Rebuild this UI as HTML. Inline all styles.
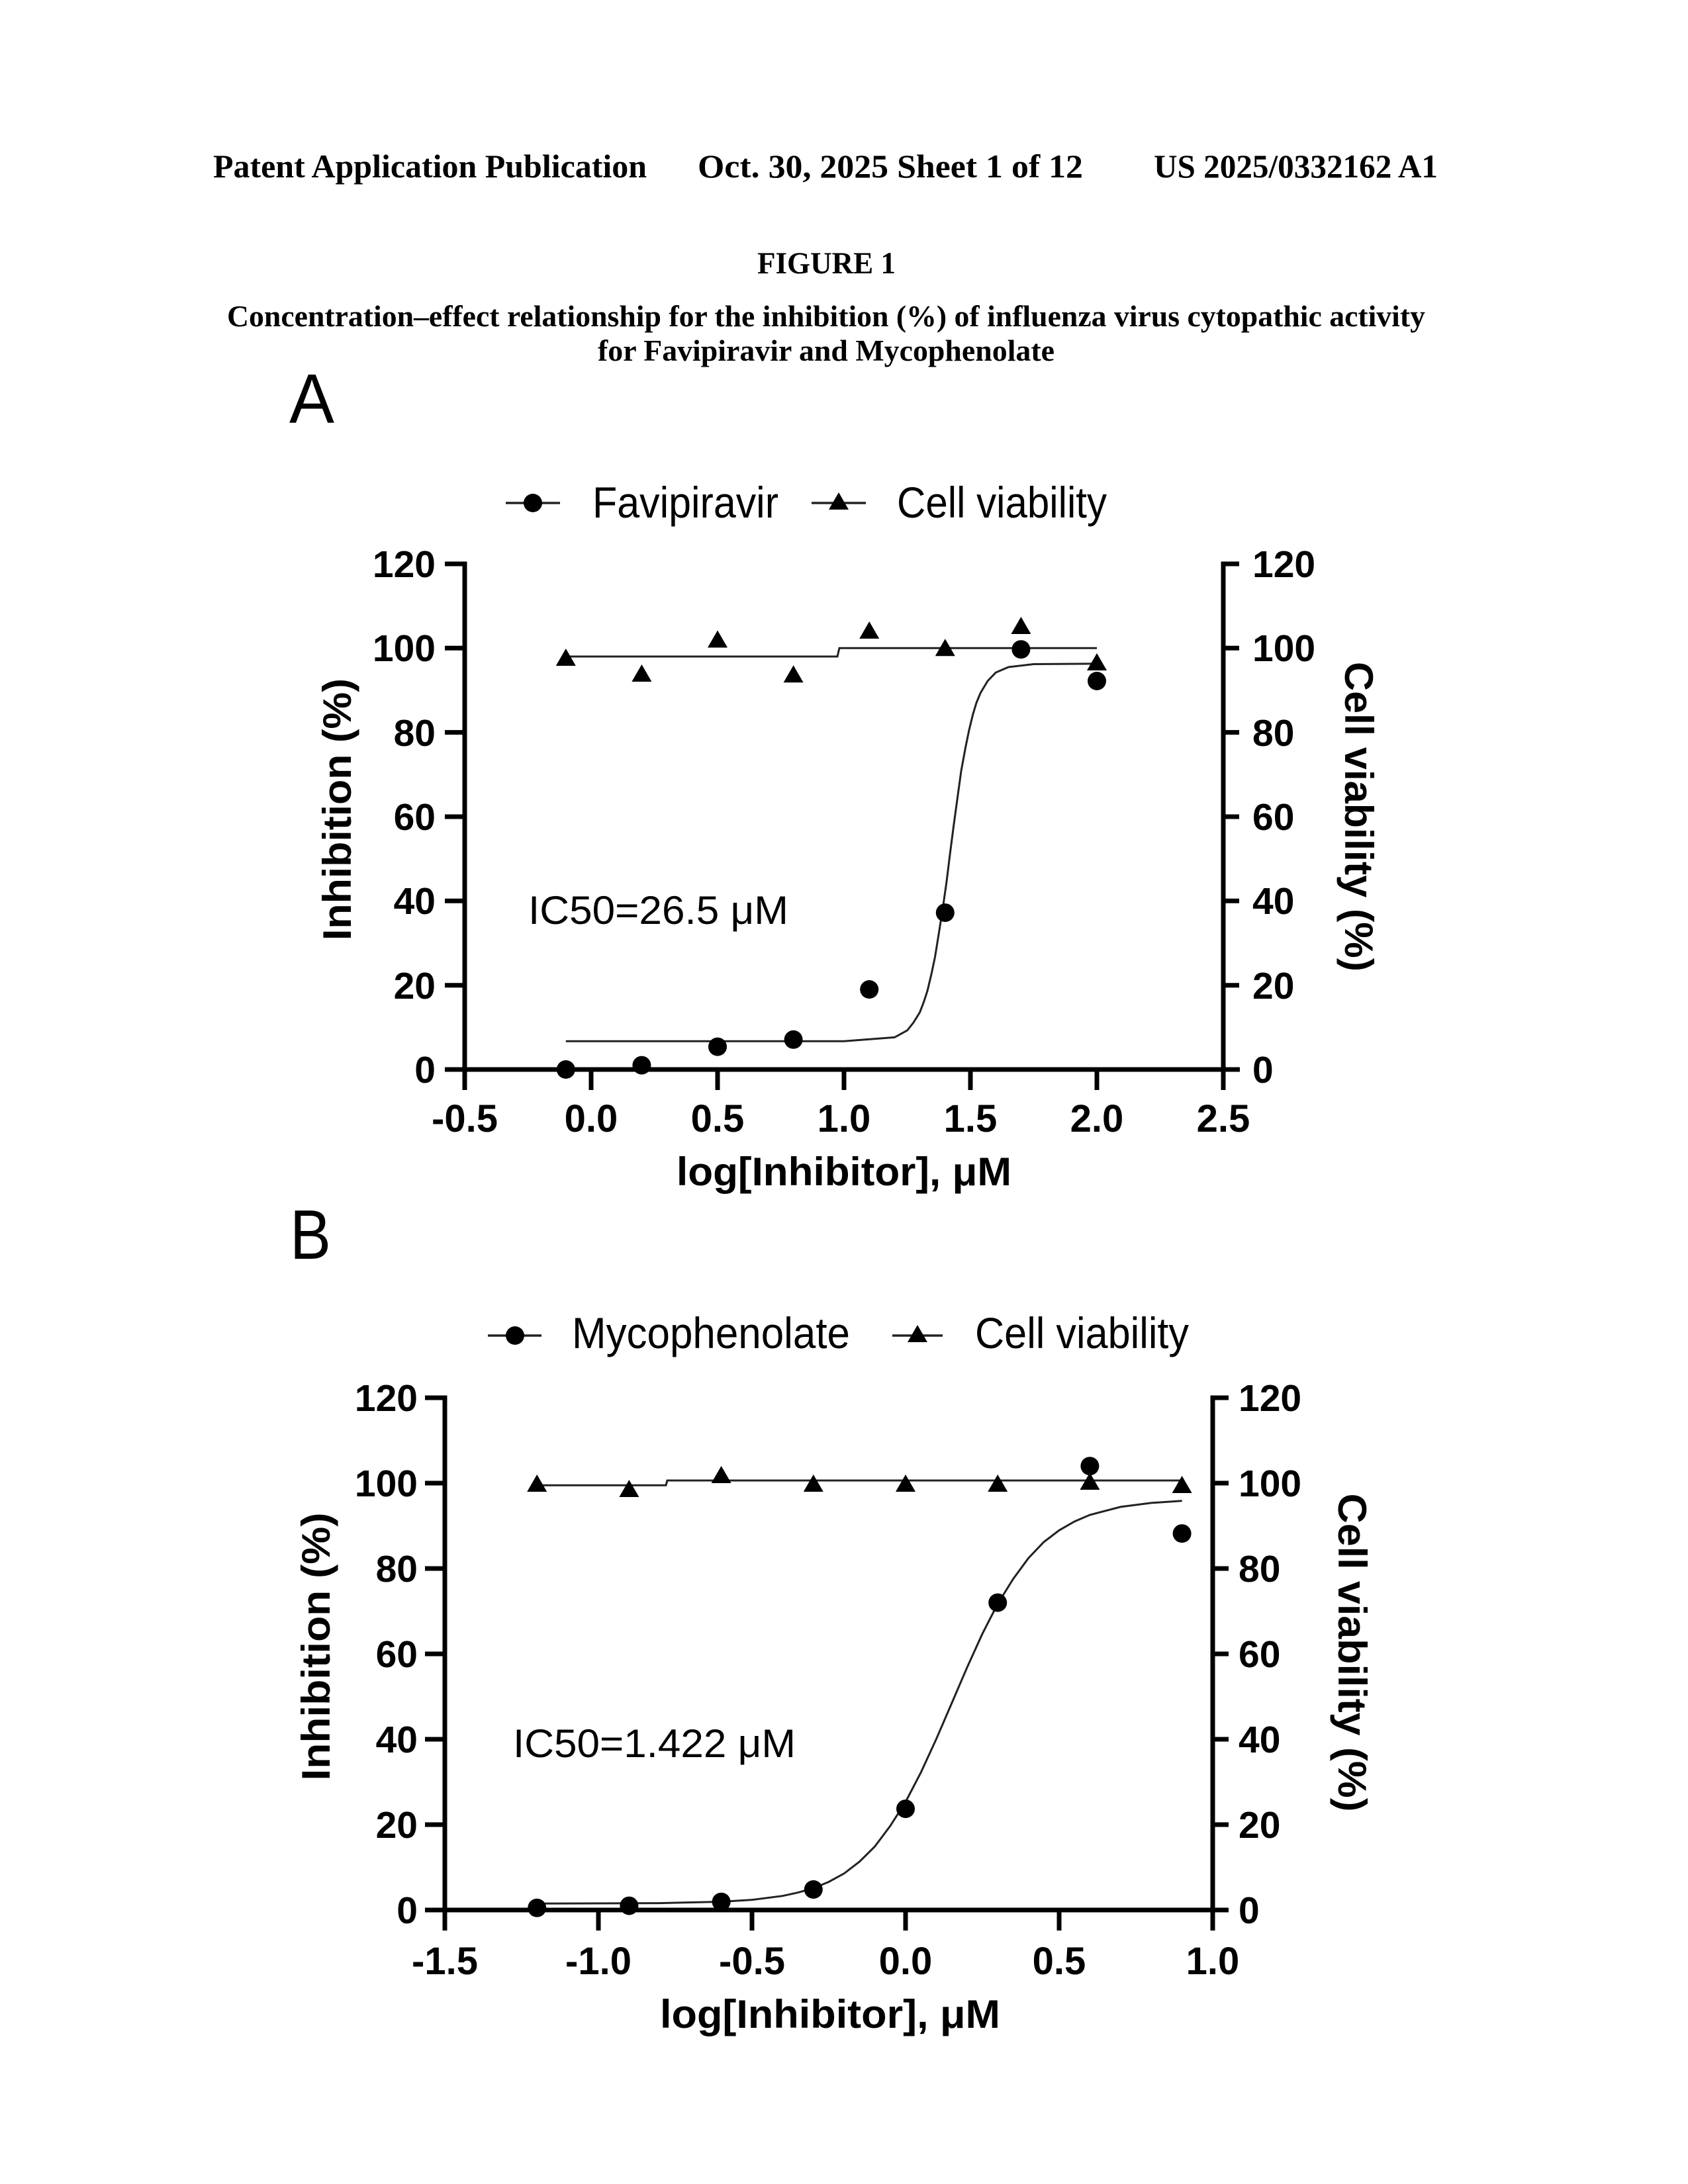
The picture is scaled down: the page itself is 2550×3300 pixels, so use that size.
<!DOCTYPE html>
<html><head><meta charset="utf-8"><style>
html,body{margin:0;padding:0;background:#fff;}
svg{display:block;}
.hdr{font-family:"Liberation Serif",serif;font-weight:bold;fill:#000;}
.s{font-family:"Liberation Sans",sans-serif;fill:#000;}
.b{font-weight:bold;}
</style></head><body>
<svg xmlns="http://www.w3.org/2000/svg" width="2550" height="3300" viewBox="0 0 2550 3300">
<rect width="2550" height="3300" fill="#fff"/>
<!-- Header -->
<text class="hdr" x="322" y="268" font-size="50" textLength="655" lengthAdjust="spacingAndGlyphs">Patent Application Publication</text>
<text class="hdr" x="1054" y="268" font-size="50" textLength="582" lengthAdjust="spacingAndGlyphs">Oct. 30, 2025  Sheet 1 of 12</text>
<text class="hdr" x="1743" y="268" font-size="50" textLength="429" lengthAdjust="spacingAndGlyphs">US 2025/0332162 A1</text>
<text class="hdr" x="1144" y="413" font-size="47" textLength="209" lengthAdjust="spacingAndGlyphs">FIGURE 1</text>
<text class="hdr" x="343" y="493" font-size="45" textLength="1810" lengthAdjust="spacingAndGlyphs">Concentration–effect relationship for the inhibition (%) of influenza virus cytopathic activity</text>
<text class="hdr" x="903" y="545" font-size="45" textLength="690" lengthAdjust="spacingAndGlyphs">for Favipiravir and Mycophenolate</text>

<!-- ================= Panel A ================= -->
<text class="s" x="437" y="639" font-size="106" textLength="68" lengthAdjust="spacingAndGlyphs">A</text>
<line x1="764" y1="760" x2="846" y2="760" stroke="#222" stroke-width="3.5"/>
<circle cx="805" cy="760" r="14" fill="#000"/>
<text class="s" x="895" y="782" font-size="66" textLength="281" lengthAdjust="spacingAndGlyphs">Favipiravir</text>
<line x1="1226" y1="760" x2="1308" y2="760" stroke="#222" stroke-width="3.5"/>
<path d="M1267,744 L1282,770 L1252,770 Z" fill="#000"/>
<text class="s" x="1355" y="782" font-size="66" textLength="317" lengthAdjust="spacingAndGlyphs">Cell viability</text>

<g stroke="#000" stroke-width="7" fill="none">
<path d="M672,852 H702 V1647"/>
<path d="M672,1616 H1873"/>
<path d="M672,979.3 H702 M672,1106.6 H702 M672,1234 H702 M672,1361.3 H702 M672,1488.7 H702"/>
<path d="M893,1616 V1647 M1084,1616 V1647 M1275,1616 V1647 M1466,1616 V1647 M1657,1616 V1647"/>
<path d="M1872,852 H1848 V1647"/>
<path d="M1848,979.3 H1872 M1848,1106.6 H1872 M1848,1234 H1872 M1848,1361.3 H1872 M1848,1488.7 H1872"/>
</g>
<g class="s b" font-size="57" text-anchor="end">
<text x="658" y="872">120</text>
<text x="658" y="999">100</text>
<text x="658" y="1127">80</text>
<text x="658" y="1254">60</text>
<text x="658" y="1381">40</text>
<text x="658" y="1509">20</text>
<text x="658" y="1636">0</text>
</g>
<g class="s b" font-size="57" text-anchor="start">
<text x="1892" y="872">120</text>
<text x="1892" y="999">100</text>
<text x="1892" y="1127">80</text>
<text x="1892" y="1254">60</text>
<text x="1892" y="1381">40</text>
<text x="1892" y="1509">20</text>
<text x="1892" y="1636">0</text>
</g>
<g class="s b" font-size="58" text-anchor="middle">
<text x="702" y="1710">-0.5</text>
<text x="893" y="1710">0.0</text>
<text x="1084" y="1710">0.5</text>
<text x="1275" y="1710">1.0</text>
<text x="1466" y="1710">1.5</text>
<text x="1657" y="1710">2.0</text>
<text x="1848" y="1710">2.5</text>
</g>
<text class="s b" x="1022" y="1791" font-size="60" textLength="506" lengthAdjust="spacingAndGlyphs">log[Inhibitor], μM</text>
<text class="s b" transform="translate(530,1223) rotate(-90)" x="0" y="0" font-size="60" text-anchor="middle" textLength="396" lengthAdjust="spacingAndGlyphs">Inhibition (%)</text>
<text class="s b" transform="translate(2032,1234) rotate(90)" x="0" y="0" font-size="60" text-anchor="middle" textLength="468" lengthAdjust="spacingAndGlyphs">Cell viability (%)</text>
<text class="s" x="798" y="1396" font-size="60" textLength="393" lengthAdjust="spacingAndGlyphs">IC50=26.5 μM</text>

<polyline fill="none" stroke="#222" stroke-width="3" points="854.8,992 1265,992 1268,979.3 1657,979.3"/>
<polyline fill="none" stroke="#222" stroke-width="3" points="854.8,1573.3 1275,1573.3 1351.4,1567.4 1370.5,1557 1380,1545 1389.6,1529.5 1395.5,1514 1401.1,1496.9 1407,1472 1412.5,1446 1418,1412 1424,1374.1 1430,1332 1435.4,1288.1 1441,1245 1446.9,1202.1 1452,1165 1458.4,1130.2 1464,1103 1469.8,1079.3 1475,1062 1481.3,1046.8 1492,1029 1504.2,1016.2 1523.3,1008 1561.5,1003.5 1657,1002.9"/>
<g fill="#000">
<path d="M854.8,980 l15,26 h-30 z"/>
<path d="M969.4,1004 l15,26 h-30 z"/>
<path d="M1084,952.5 l15,26 h-30 z"/>
<path d="M1198.6,1005.3 l15,26 h-30 z"/>
<path d="M1313.2,939 l15,26 h-30 z"/>
<path d="M1427.8,965.2 l15,26 h-30 z"/>
<path d="M1542.4,932 l15,26 h-30 z"/>
<path d="M1657,987 l15,26 h-30 z"/>
</g>
<g fill="#000">
<circle cx="854.8" cy="1616" r="14"/>
<circle cx="969.4" cy="1609.6" r="14"/>
<circle cx="1084" cy="1581.6" r="14"/>
<circle cx="1198.6" cy="1570.8" r="14"/>
<circle cx="1313.2" cy="1495" r="14"/>
<circle cx="1427.8" cy="1379.1" r="14"/>
<circle cx="1542.4" cy="981.2" r="14"/>
<circle cx="1657" cy="1029" r="14"/>
</g>

<!-- ================= Panel B ================= -->
<text class="s" x="438" y="1902" font-size="106" textLength="62" lengthAdjust="spacingAndGlyphs">B</text>
<line x1="737" y1="2018" x2="818" y2="2018" stroke="#222" stroke-width="3.5"/>
<circle cx="778" cy="2018" r="14" fill="#000"/>
<text class="s" x="864" y="2037" font-size="66" textLength="420" lengthAdjust="spacingAndGlyphs">Mycophenolate</text>
<line x1="1348" y1="2018" x2="1424" y2="2018" stroke="#222" stroke-width="3.5"/>
<path d="M1386,2002 L1401,2028 L1371,2028 Z" fill="#000"/>
<text class="s" x="1473" y="2037" font-size="66" textLength="323" lengthAdjust="spacingAndGlyphs">Cell viability</text>

<g stroke="#000" stroke-width="7" fill="none">
<path d="M642,2112 H672 V2917"/>
<path d="M642,2886 H1856"/>
<path d="M642,2241 H672 M642,2370 H672 M642,2499 H672 M642,2628 H672 M642,2757 H672"/>
<path d="M904,2886 V2917 M1136,2886 V2917 M1368,2886 V2917 M1600,2886 V2917"/>
<path d="M1856,2112 H1832 V2917"/>
<path d="M1832,2241 H1856 M1832,2370 H1856 M1832,2499 H1856 M1832,2628 H1856 M1832,2757 H1856"/>
</g>
<g class="s b" font-size="57" text-anchor="end">
<text x="631" y="2132">120</text>
<text x="631" y="2261">100</text>
<text x="631" y="2390">80</text>
<text x="631" y="2519">60</text>
<text x="631" y="2648">40</text>
<text x="631" y="2777">20</text>
<text x="631" y="2906">0</text>
</g>
<g class="s b" font-size="57" text-anchor="start">
<text x="1871" y="2132">120</text>
<text x="1871" y="2261">100</text>
<text x="1871" y="2390">80</text>
<text x="1871" y="2519">60</text>
<text x="1871" y="2648">40</text>
<text x="1871" y="2777">20</text>
<text x="1871" y="2906">0</text>
</g>
<g class="s b" font-size="58" text-anchor="middle">
<text x="672" y="2983">-1.5</text>
<text x="904" y="2983">-1.0</text>
<text x="1136" y="2983">-0.5</text>
<text x="1368" y="2983">0.0</text>
<text x="1600" y="2983">0.5</text>
<text x="1832" y="2983">1.0</text>
</g>
<text class="s b" x="997" y="3064" font-size="60" textLength="514" lengthAdjust="spacingAndGlyphs">log[Inhibitor], μM</text>
<text class="s b" transform="translate(498,2488) rotate(-90)" x="0" y="0" font-size="60" text-anchor="middle" textLength="405" lengthAdjust="spacingAndGlyphs">Inhibition (%)</text>
<text class="s b" transform="translate(2022,2497) rotate(90)" x="0" y="0" font-size="60" text-anchor="middle" textLength="481" lengthAdjust="spacingAndGlyphs">Cell viability (%)</text>
<text class="s" x="775" y="2655" font-size="60" textLength="427" lengthAdjust="spacingAndGlyphs">IC50=1.422 μM</text>

<polyline fill="none" stroke="#222" stroke-width="3" points="811.2,2244.2 1006,2244.2 1008,2237 1785.6,2237"/>
<polyline fill="none" stroke="#222" stroke-width="3" points="811.2,2876.3 996.8,2875.6 1089.6,2873.5 1136,2870.6 1182.4,2864.7 1205.6,2859.6 1228.8,2853.1 1252,2843.5 1275.2,2830.8 1298.4,2813 1321.6,2790 1344.8,2759 1368,2722.7 1391.2,2678.1 1414.4,2627.7 1437.6,2573.9 1460.8,2519.8 1484,2468.7 1507.2,2423.4 1530.4,2386 1553.6,2354.4 1576.8,2330 1600,2312.3 1623.2,2299 1646.4,2289 1692.8,2276.9 1739.2,2270.9 1785.6,2267.8"/>
<g fill="#000">
<path d="M811.2,2228 l15,26 h-30 z"/>
<path d="M950.4,2236 l15,26 h-30 z"/>
<path d="M1089.6,2215 l15,26 h-30 z"/>
<path d="M1228.8,2228 l15,26 h-30 z"/>
<path d="M1368,2228 l15,26 h-30 z"/>
<path d="M1507.2,2228 l15,26 h-30 z"/>
<path d="M1646.4,2225 l15,26 h-30 z"/>
<path d="M1785.6,2230 l15,26 h-30 z"/>
</g>
<g fill="#000">
<circle cx="811.2" cy="2882.8" r="14"/>
<circle cx="950.4" cy="2879.6" r="14"/>
<circle cx="1089.6" cy="2873.7" r="14"/>
<circle cx="1228.8" cy="2855" r="14"/>
<circle cx="1368" cy="2733.1" r="14"/>
<circle cx="1507.2" cy="2421.6" r="14"/>
<circle cx="1646.4" cy="2215.2" r="14"/>
<circle cx="1785.6" cy="2317.1" r="14"/>
</g>
</svg>
</body></html>
